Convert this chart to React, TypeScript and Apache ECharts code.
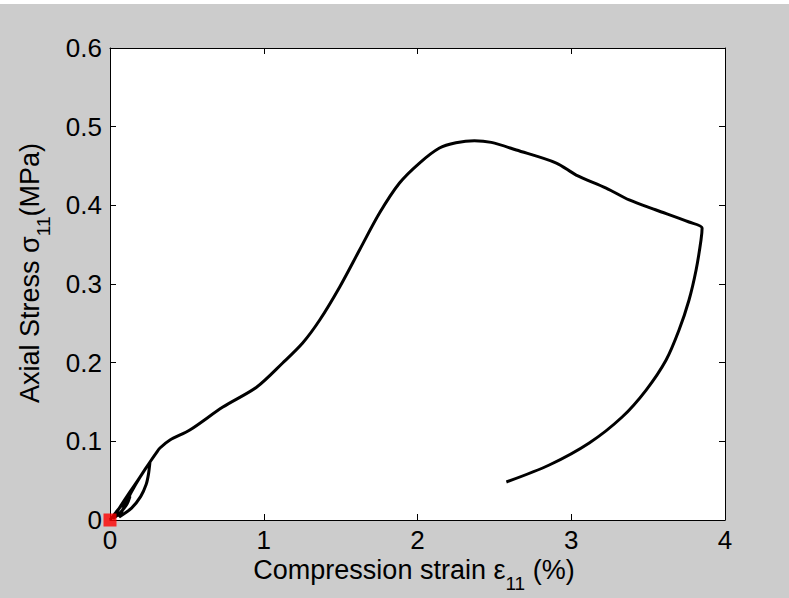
import React, { useEffect, useRef } from "react";
import * as echarts from "echarts";

const xTickValues = [0, 1, 2, 3, 4];

const strain = [
  0, 0.04, 0.09, 0.13, 0.11, 0.06, 0.02,
  0.07, 0.12, 0.18, 0.23, 0.26, 0.25, 0.235, 0.2, 0.14, 0.06,
  0.09, 0.14, 0.2, 0.26, 0.3, 0.325, 0.39,
  0.519, 0.734, 0.955, 1.123, 1.253, 1.364, 1.494, 1.623, 1.753, 1.883,
  2.013, 2.143, 2.25, 2.37, 2.48, 2.643, 2.903, 3.032, 3.227, 3.377, 3.552,
  3.766, 3.851, 3.844, 3.812, 3.766, 3.701, 3.617, 3.487, 3.331, 3.117,
  2.857, 2.578,
];
const stress = [
  0, 0.01, 0.022, 0.03, 0.02, 0.008, 0.002,
  0.018, 0.033, 0.05, 0.065, 0.0737, 0.058, 0.045, 0.03, 0.015, 0.004,
  0.016, 0.036, 0.056, 0.0737, 0.085, 0.0915, 0.1017,
  0.1144, 0.1436, 0.1691, 0.1996, 0.225, 0.2542, 0.2962, 0.3432, 0.3902, 0.4284,
  0.4538, 0.4729, 0.4795, 0.4822, 0.48, 0.4703, 0.4538, 0.4385, 0.422, 0.4068, 0.3941,
  0.3788, 0.3712, 0.3559, 0.3178, 0.2797, 0.2415, 0.2034, 0.1652, 0.1309, 0.0979,
  0.0699, 0.0483,
];
const originMarker = [[0, 0]];

const FONT = "'Liberation Sans', Arial, sans-serif";

export default function App() {
  const ref = useRef<HTMLDivElement>(null);
  useEffect(() => {
    if (!ref.current) return;
    const chart = echarts.init(ref.current, null, { renderer: "svg" });
    const curve = strain.map((x, i) => [x, stress[i]]);
    const mkLine = () => ({ show: true, onZero: false, lineStyle: { color: "#000", width: 1 } });
    const mkTick = () => ({ show: true, inside: true, length: 6, lineStyle: { color: "#000", width: 1 } });
    const label = { color: "#000", fontSize: 26, fontFamily: FONT };
    const rich = {
      m: { fontSize: 27, fontFamily: FONT, fill: "#000", color: "#000" },
      s: { fontSize: 19, fontFamily: FONT, fill: "#000", color: "#000", padding: [26, 0, 0, 0] },
    };
    chart.setOption({
      animation: false,
      backgroundColor: "transparent",
      grid: {
        left: 110, right: 64, top: 48, bottom: 78,
        containLabel: false, outerBoundsMode: "none",
      },
      xAxis: [
        {
          type: "value", min: 0, max: 4, interval: 1, position: "bottom",
          axisLine: mkLine(), axisTick: mkTick(), splitLine: { show: false },
          axisLabel: { ...label, margin: 7, customValues: xTickValues, formatter: (v: number) => String(v) },
        },
        {
          type: "value", min: 0, max: 4, interval: 1, position: "top",
          axisLine: mkLine(), axisTick: mkTick(), splitLine: { show: false }, axisLabel: { show: false },
        },
      ],
      yAxis: [
        {
          type: "value", min: 0, max: 0.6, interval: 0.1, position: "left",
          axisLine: mkLine(), axisTick: mkTick(), splitLine: { show: false },
          axisLabel: { ...label, margin: 8, formatter: (v: number) => (v === 0 ? "0" : v.toFixed(1)) },
        },
        {
          type: "value", min: 0, max: 0.6, interval: 0.1, position: "right",
          axisLine: mkLine(), axisTick: mkTick(), splitLine: { show: false }, axisLabel: { show: false },
        },
      ],
      series: [
        {
          type: "line", data: curve, showSymbol: false, smooth: 0.3,
          lineStyle: { color: "#000", width: 3 }, z: 3,
        },
        {
          type: "scatter", data: originMarker, symbol: "rect", symbolSize: 13,
          itemStyle: { color: "#ff0000" }, clip: false, z: 5,
        },
      ],
      graphic: [
        {
          type: "text", x: 414, y: 570,
          style: {
            text: "{m|Compression strain ε}{s|11}{m| (%)}",
            rich, align: "center", verticalAlign: "middle", fill: "#000",
          },
        },
        {
          type: "text", x: 30, y: 273, rotation: Math.PI / 2,
          style: {
            text: "{m|Axial Stress σ}{s|11}{m|(MPa)}",
            rich, align: "center", verticalAlign: "middle", fill: "#000",
          },
        },
      ],
    });
    return () => chart.dispose();
  }, []);
  return (
    <div style={{ position: "fixed", left: 0, top: 0, width: 789, height: 598, background: "#cccccc", borderTop: "4px solid #ffffff", boxSizing: "border-box" }}>
      <div style={{ position: "absolute", left: 110, top: 44, width: 615, height: 472, background: "#ffffff" }} />
      <div ref={ref} style={{ position: "absolute", left: 0, top: -4, width: 789, height: 598 }} />
    </div>
  );
}
